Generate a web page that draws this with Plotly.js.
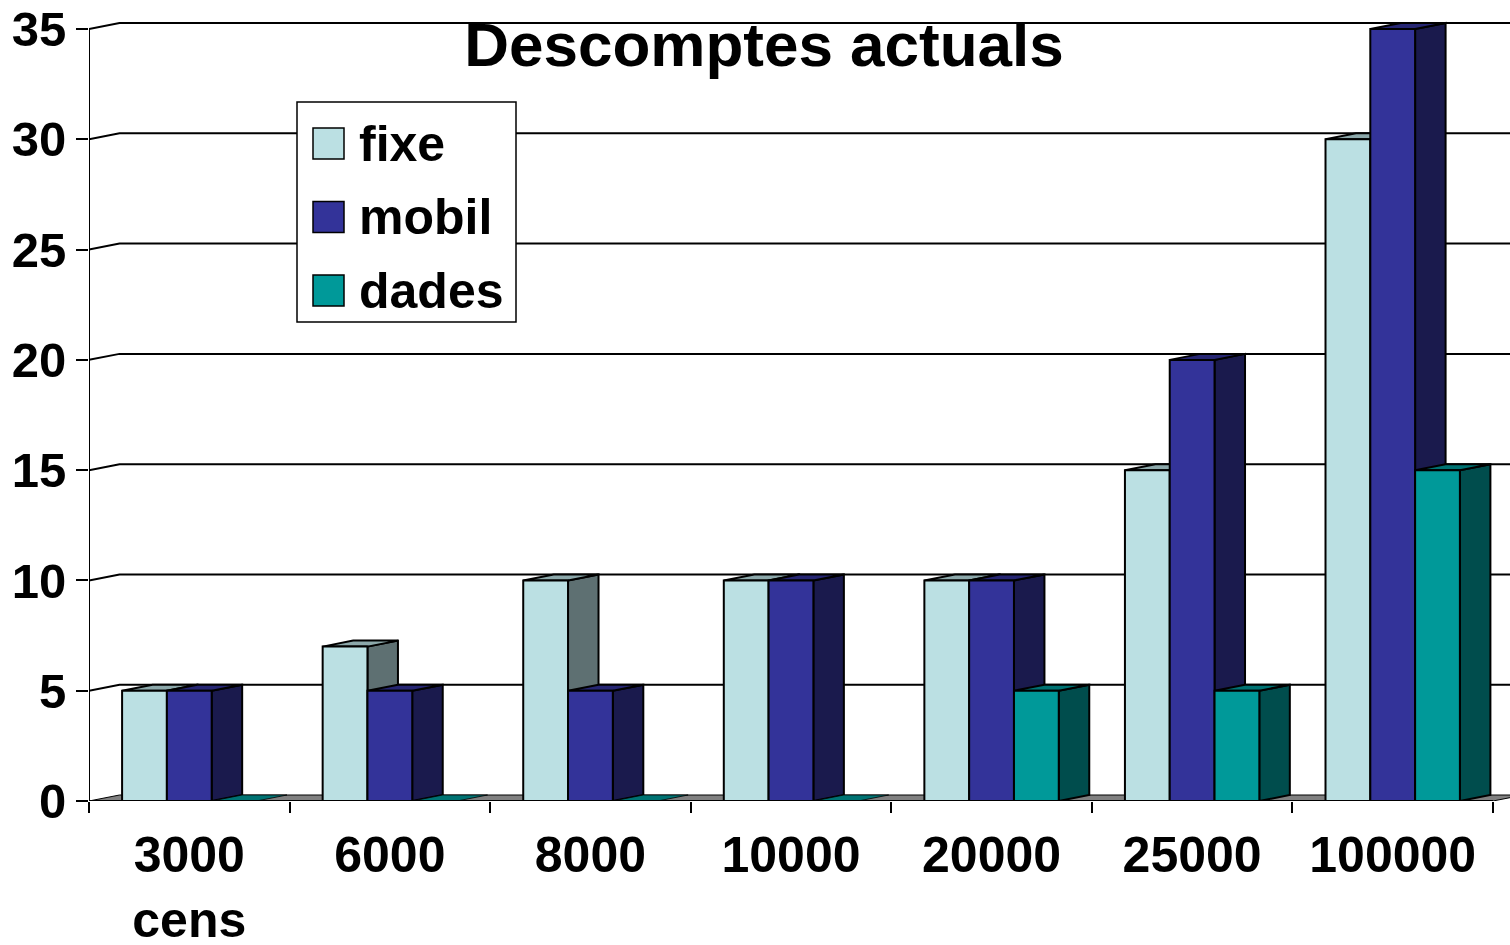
<!DOCTYPE html>
<html>
<head>
<meta charset="utf-8">
<script src="https://cdn.plot.ly/plotly-3.0.1.min.js"></script>
<style>html,body{margin:0;padding:0;background:#fff;}#chart{width:1510px;height:945px;}</style>
</head>
<body>
<div id="chart"></div>
<script>
// ---- data ----
const categories = ['3000', '6000', '8000', '10000', '20000', '25000', '100000'];
const tickLabels = ['3000<br>cens', '6000', '8000', '10000', '20000', '25000', '100000'];
const seriesNames = ['fixe', 'mobil', 'dades'];
const fixe  = [5, 7, 10, 10, 10, 15, 30];
const mobil = [5, 5, 5, 10, 10, 20, 35];
const dades = [0, 0, 0, 0, 5, 5, 15];
const yTicks = [0, 5, 10, 15, 20, 25, 30, 35];
const chartTitle = 'Descomptes actuals';

// ---- styles ----
const frontColors = ['#BBE0E3', '#333399', '#009999'];
const sideColors  = ['#5E7072', '#1A1A4D', '#004D4D'];
const topColors   = ['#8CA8AA', '#262673', '#007373'];
const FONT = 'Liberation Sans, Arial, Helvetica, sans-serif';

const W = 1510, H = 945;
const mL = 89, mR = 0, mT = 20, mB = 144;
const plotW = W - mL - mR, plotH = H - mT - mB;
const catPx = 200.57;              // pixels per category
const xMin = -0.5, xMax = xMin + plotW / catPx;
const yMax = 35.41, yMin = 0;
const pxPerY = plotH / (yMax - yMin);
const DX = 30.5 / catPx;           // depth offset (x units)
const DY = 6 / pxPerY;             // depth offset (y units)
const barW = 0.2233;
const offsets = [-0.335, -0.1117, 0.1117];

const xs = categories.map((c, i) => i);
const allSeries = [fixe, mobil, dades];

const traces = allSeries.map((vals, s) => ({
  type: 'bar',
  name: seriesNames[s],
  x: xs,
  y: vals,
  width: barW,
  offset: offsets[s],
  marker: { color: frontColors[s], line: { color: '#000', width: 2 } },
  showlegend: false,
  hoverinfo: 'name+y'
}));

const shapes = [];
const nCat = categories.length;
const xEnd = nCat - 0.5;

// back-wall gridlines
yTicks.filter(v => v > 0).forEach(v => {
  shapes.push({
    type: 'path', xref: 'x', yref: 'y', layer: 'below',
    path: `M ${xMin},${v} L ${xMin + DX},${v + DY} L ${xMax + 1},${v + DY}`,
    line: { color: '#000', width: 2 }
  });
});

// floor
shapes.push({
  type: 'path', xref: 'x', yref: 'y', layer: 'below',
  path: `M ${xMin},0 L ${xEnd},0 L ${xEnd + DX},${DY} L ${xMin + DX},${DY} Z`,
  fillcolor: '#808080', line: { color: '#000', width: 1 }
});

// bar side and top faces
for (let i = 0; i < nCat; i++) {
  for (let s = 0; s < allSeries.length; s++) {
    const v = allSeries[s][i];
    const x0 = xs[i] + offsets[s];
    const x1 = x0 + barW;
    if (v > 0) {
      shapes.push({
        type: 'path', xref: 'x', yref: 'y', layer: 'below',
        path: `M ${x1},0 L ${x1 + DX},${DY} L ${x1 + DX},${v + DY} L ${x1},${v} Z`,
        fillcolor: sideColors[s], line: { color: '#000', width: 2 }
      });
    }
    shapes.push({
      type: 'path', xref: 'x', yref: 'y', layer: 'below',
      path: `M ${x0},${v} L ${x1},${v} L ${x1 + DX},${v + DY} L ${x0 + DX},${v + DY} Z`,
      fillcolor: topColors[s], line: { color: '#000', width: v > 0 ? 2 : 0.8 }
    });
  }
}

// axis lines
shapes.push({ type: 'line', xref: 'x', yref: 'y', layer: 'above',
  x0: xMin, x1: xMin, y0: 0, y1: yTicks[yTicks.length - 1], line: { color: '#000', width: 2 } });
shapes.push({ type: 'line', xref: 'x', yref: 'y', layer: 'above',
  x0: xMin, x1: xEnd, y0: 0, y1: 0, line: { color: '#000', width: 2 } });

// legend (drawn in paper coordinates)
const px2x = p => (p - mL) / plotW;
const py2y = p => (mT + plotH - p) / plotH;
shapes.push({ type: 'rect', xref: 'paper', yref: 'paper', layer: 'above',
  x0: px2x(297), x1: px2x(516), y0: py2y(322), y1: py2y(102),
  fillcolor: '#fff', line: { color: '#000', width: 1.5 } });
const annotations = [];
seriesNames.forEach((name, s) => {
  const top = 128 + 73.5 * s;
  shapes.push({ type: 'rect', xref: 'paper', yref: 'paper', layer: 'above',
    x0: px2x(313), x1: px2x(344), y0: py2y(top + 31), y1: py2y(top),
    fillcolor: frontColors[s], line: { color: '#000', width: 1.5 } });
  annotations.push({ xref: 'paper', yref: 'paper', x: px2x(357), y: py2y(top + 15.5),
    xanchor: 'left', yanchor: 'middle', showarrow: false, text: name,
    font: { family: FONT, size: 50, color: '#000', weight: 'bold' } });
});

const layout = {
  width: W, height: H, autosize: false,
  margin: { l: mL, r: mR, t: mT, b: mB, pad: 0 },
  paper_bgcolor: '#fff', plot_bgcolor: '#fff',
  font: { family: FONT, color: '#000', weight: 'bold' },
  title: { text: chartTitle, font: { family: FONT, size: 62, color: '#000', weight: 'bold' },
    x: 764 / W, xanchor: 'center', xref: 'container', y: 1 - 44 / H, yanchor: 'middle', yref: 'container' },
  barmode: 'overlay',
  showlegend: false,
  xaxis: {
    type: 'linear', range: [xMin, xMax], fixedrange: true,
    tickmode: 'array', tickvals: xs, ticktext: tickLabels,
    ticks: '', showgrid: false, zeroline: false, showline: false,
    tickfont: { family: FONT, size: 50, color: '#000', weight: 'bold' },
    ticklabelstandoff: 20,
    minor: { tickmode: 'array', tickvals: xs.map(v => v - 0.5).concat([xEnd]),
      ticks: 'outside', ticklen: 11, tickwidth: 2, tickcolor: '#000', showgrid: false }
  },
  yaxis: {
    type: 'linear', range: [yMin, yMax], fixedrange: true,
    tickmode: 'array', tickvals: yTicks, ticktext: yTicks.map(String),
    ticks: 'outside', ticklen: 12, tickwidth: 2, tickcolor: '#000',
    showgrid: false, zeroline: false, showline: false,
    tickfont: { family: FONT, size: 49, color: '#000', weight: 'bold' },
    ticklabelstandoff: 0
  },
  shapes: shapes,
  annotations: annotations
};

Plotly.newPlot('chart', traces, layout, { displayModeBar: false, staticPlot: true });
</script>
</body>
</html>
